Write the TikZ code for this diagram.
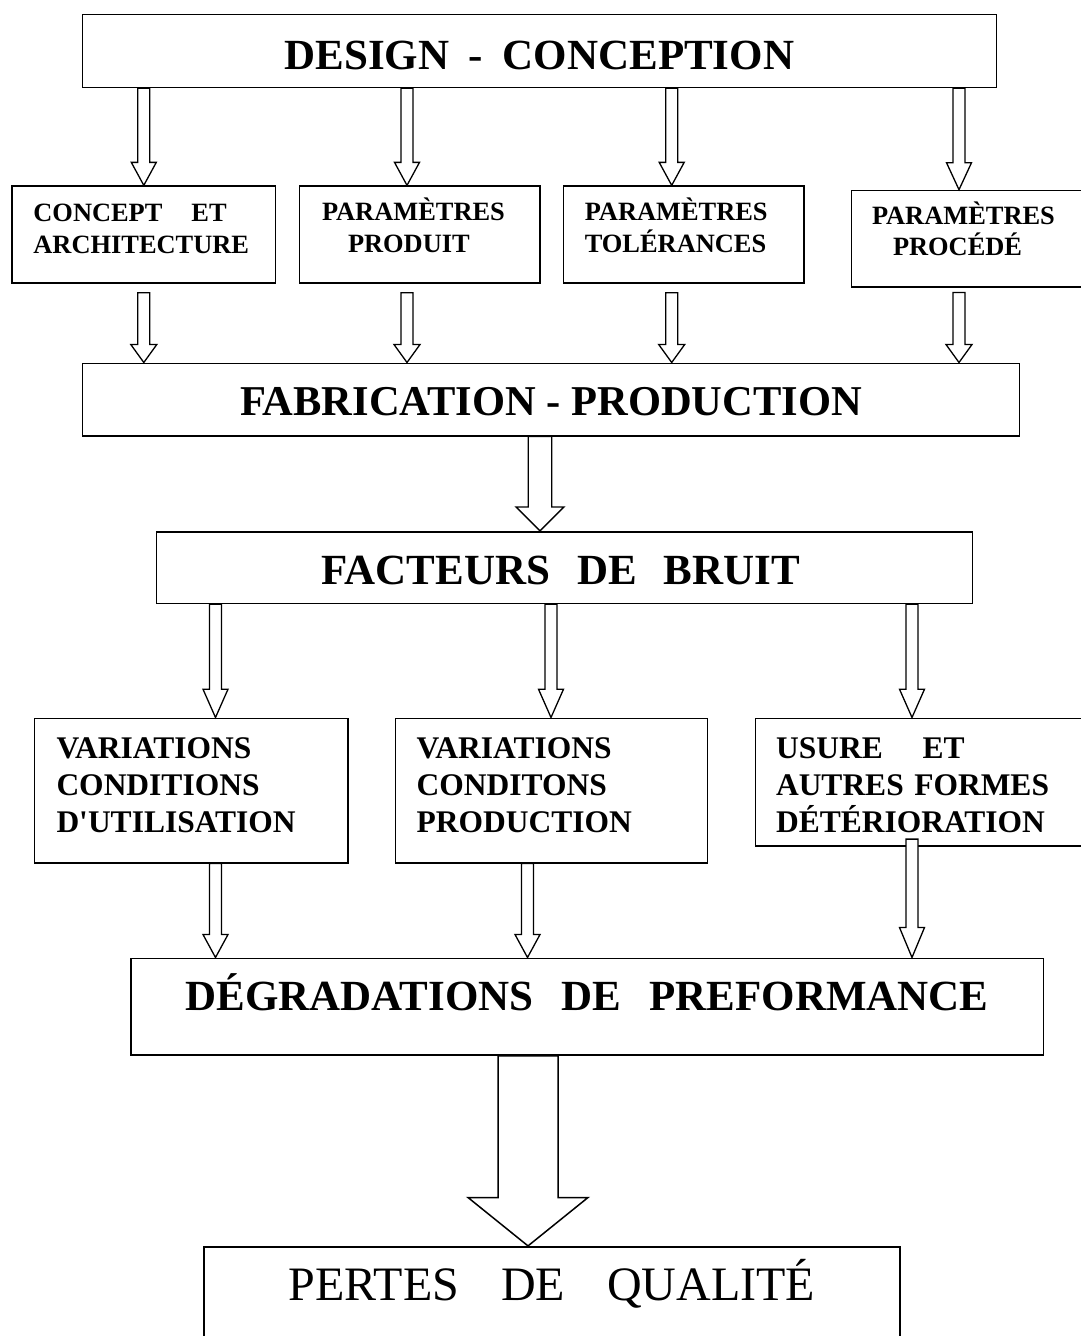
\documentclass[tikz,border=0pt]{standalone}
\usepackage{fontspec}
\setmainfont{Liberation Serif}
\usetikzlibrary{calc}
% block arrow: #2 start, #3 tip, #4 shaft half width, #5 head half width, #6 head length
\newcommand\blockarr[6][]{%
  \draw[arr,#1] let \p1=(#2), \p2=(#3) in
    (\x1-#4,\y1) -- (\x1-#4,\y2+#6) -- (\x1-#5,\y2+#6) -- (\x1,\y2)
    -- (\x1+#5,\y2+#6) -- (\x1+#4,\y2+#6) -- (\x1+#4,\y1) -- cycle;}
\begin{document}
\begin{tikzpicture}[x=1pt,y=-1pt,
  box/.style={draw, line width=1.6pt, inner sep=0pt, align=left},
  bigfont/.style={font=\fontsize{43}{50}\selectfont\bfseries},
  smallfont/.style={font=\fontsize{26.4}{31.5}\selectfont\bfseries},
  midfont/.style={font=\fontsize{31.5}{37.2}\selectfont\bfseries},
  lossfont/.style={font=\fontsize{48}{56}\selectfont},
  arr/.style={draw, fill=white, line width=1.3pt, line join=miter}]
\fill[white] (0,0) rectangle (1080,1336);
\useasboundingbox (0,0) rectangle (1080,1336);

% ---------- boxes ----------
\node[box, bigfont, minimum width=913.7pt, minimum height=73pt, text height=37.8pt, text depth=0pt]
  (design) at (539.45,50.8) {DESIGN\hspace{19pt}-\hspace{20pt}CONCEPTION};

\node[box, smallfont, minimum width=263.5pt, minimum height=96.7pt, text width=220.7pt, text height=20pt, text depth=45.6pt]
  (ca) at (143.75,234.5) {CONCEPT\hspace{29pt}ET\\ARCHITECTURE};
\node[box, smallfont, minimum width=240.4pt, minimum height=96.7pt, text width=195.6pt, text height=20pt, text depth=47.6pt]
  (cb) at (419.8,234.5) {PARAMÈTRES\\\hspace*{26pt}PRODUIT};
\node[box, smallfont, minimum width=240.6pt, minimum height=96.7pt, text width=197.8pt, text height=20pt, text depth=47.6pt]
  (cc) at (683.7,234.5) {PARAMÈTRES\\TOLÉRANCES};
\node[box, smallfont, minimum width=230.4pt, minimum height=96.2pt, text width=189.6pt, text height=20pt, text depth=49.2pt]
  (cd) at (966.8,238.6) {PARAMÈTRES\\\hspace*{21pt}PROCÉDÉ};

\node[box, font=\fontsize{42.5}{50}\selectfont\bfseries, minimum width=936.7pt, minimum height=72.4pt, text height=31pt, text depth=0pt]
  (fab) at (550.95,399.5) {FABRICATION - PRODUCTION};

\node[box, bigfont, minimum width=816.2pt, minimum height=71.6pt, text height=33pt, text depth=0pt]
  (fact) at (564.4,567.5) {FACTEURS\hspace{27pt}DE\hspace{27pt}BRUIT\hspace{7pt}};

\node[box, midfont, minimum width=313.4pt, minimum height=144.4pt, text width=269.2pt, text height=22pt, text depth=86.4pt]
  (ve) at (191.1,790.5) {VARIATIONS\\CONDITIONS\\D\textquotesingle UTILISATION};
\node[box, midfont, minimum width=312pt, minimum height=144.4pt, text width=269.2pt, text height=22pt, text depth=86.4pt]
  (vf) at (551.3,790.5) {VARIATIONS\\CONDITONS\\PRODUCTION};
\node[box, midfont, minimum width=326.5pt, minimum height=127.4pt, text width=285.5pt, text height=22pt, text depth=69.4pt]
  (vg) at (918.75,782) {USURE\hspace{40pt}ET\\AUTRES FORMES\\DÉTÉRIORATION};

\node[box, bigfont, minimum width=912.5pt, minimum height=96.7pt, text height=20pt, text depth=13.3pt]
  (degr) at (587.15,1006.65) {DÉGRADATIONS\hspace{28pt}DE\hspace{28pt}PREFORMANCE};

\node[box, lossfont, minimum width=696pt, minimum height=98.3pt, text height=8.3pt, text depth=0pt]
  (pertes) at (552,1295.85) {PERTES\hspace{42pt}DE\hspace{42pt}QUALITÉ};

% ---------- arrow axes ----------
\coordinate (x1) at (143.8,0);
\coordinate (x2) at (407,0);
\coordinate (x3) at (671.7,0);
\coordinate (x4) at (959,0);
\coordinate (x5) at (540,0);
\coordinate (x6) at (215.5,0);
\coordinate (x7) at (551,0);
\coordinate (x8) at (912,0);
\coordinate (x9) at (527.5,0);
\coordinate (x10) at (528,0);

% design -> row 2
\blockarr{x1 |- design.south}{x1 |- ca.north}{6pt}{12.5pt}{23pt}
\blockarr{x2 |- design.south}{x2 |- cb.north}{6pt}{12.5pt}{23pt}
\blockarr{x3 |- design.south}{x3 |- cc.north}{6pt}{12.5pt}{23pt}
\blockarr{x4 |- design.south}{x4 |- cd.north}{6pt}{12.5pt}{27pt}

% row 2 -> fabrication
\blockarr{$(x1 |- ca.south)+(0,9)$}{x1 |- fab.north}{6pt}{13pt}{18pt}
\blockarr{$(x2 |- cb.south)+(0,9)$}{x2 |- fab.north}{6pt}{13pt}{18pt}
\blockarr{$(x3 |- cc.south)+(0,9)$}{x3 |- fab.north}{6pt}{13pt}{18pt}
\blockarr{$(x4 |- cd.south)+(0,5)$}{x4 |- fab.north}{6pt}{13pt}{18pt}

% fabrication -> facteurs
\blockarr{x5 |- fab.south}{x5 |- fact.north}{11.7pt}{24pt}{24pt}

% facteurs -> row 4
\blockarr{x6 |- fact.south}{x6 |- ve.north}{6pt}{12.5pt}{28.3pt}
\blockarr{x7 |- fact.south}{x7 |- vf.north}{6pt}{12.5pt}{28.3pt}
\blockarr{x8 |- fact.south}{x8 |- vg.north}{6pt}{12.5pt}{28.3pt}

% row 4 -> degradations
\blockarr{x6 |- ve.south}{x6 |- degr.north}{6pt}{12.5pt}{23pt}
\blockarr{x9 |- vf.south}{x9 |- degr.north}{6pt}{12.5pt}{23pt}
\blockarr{$(x8 |- vg.south)+(0,-7.4)$}{x8 |- degr.north}{6pt}{12.5pt}{30pt}

% degradations -> pertes
\blockarr[line width=1.5pt]{x10 |- degr.south}{x10 |- pertes.north}{30pt}{60pt}{48.4pt}
\end{tikzpicture}
\end{document}
